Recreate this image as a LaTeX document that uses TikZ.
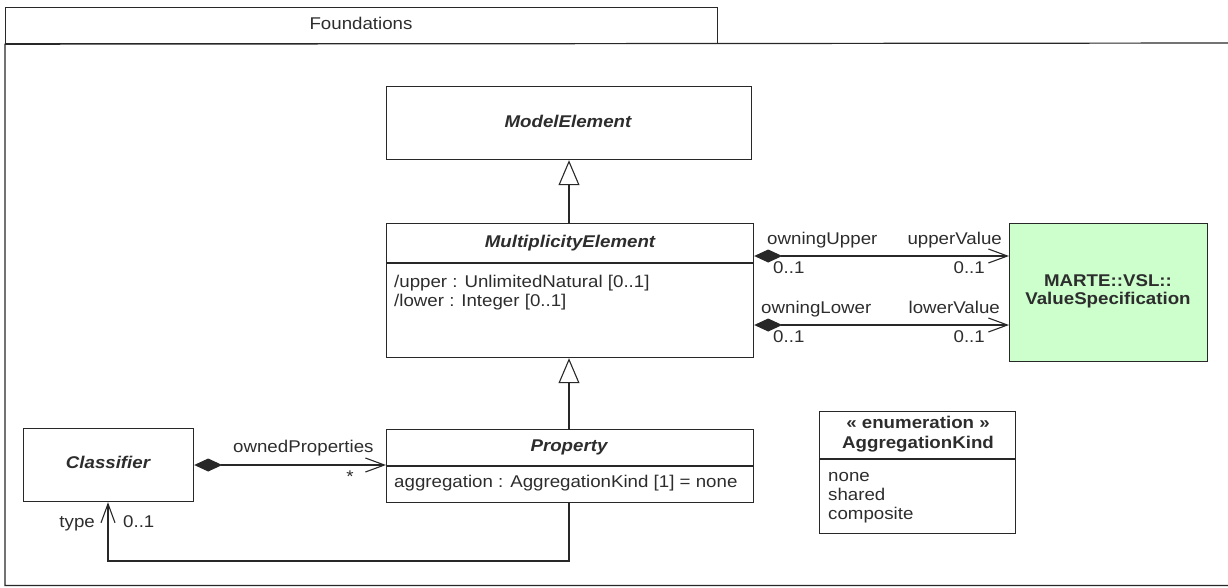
\documentclass[tikz,border=0pt]{standalone}
\usepackage{fontspec}
\setmainfont{Liberation Sans}[FakeStretch=1.1]
\usepackage{tikz}
\usetikzlibrary{arrows.meta}

\definecolor{vslgreen}{RGB}{204,255,204}
\definecolor{umlline}{RGB}{40,40,40}
\definecolor{umltext}{RGB}{45,45,45}

\begin{document}
\begin{tikzpicture}[x=1pt,y=-1pt,
    every node/.style={font=\fontsize{17}{19}\selectfont, text=umltext},
    classbox/.style={draw=umlline, line width=1.2pt, inner sep=0pt, anchor=north west},
    classname/.style={font=\fontsize{17}{19}\selectfont\bfseries\itshape, anchor=base},
    stereo/.style={font=\fontsize{17}{19}\selectfont\bfseries, anchor=base},
    attr/.style={anchor=base west, inner sep=0pt},
    role/.style={inner sep=0pt},
    sep/.style={draw=umlline, line width=1.2pt},
    link/.style={draw=umlline, line width=1.1pt},
    comp/.style={link, {Diamond[length=28pt,width=13pt]}-{Straight Barb[length=19pt,width=14pt]}},
    nav/.style={link, -{Straight Barb[length=19pt,width=14pt]}},
    gen/.style={link, -{Triangle[open,length=25pt,width=21pt,fill=white]}}]

  \useasboundingbox (0,0) rectangle (1228,587);

  % package frame
  \node[classbox, minimum width=712pt, minimum height=36pt] (pkg) at (5,7) {};
  \node[anchor=base] at (361,29) {Foundations};
  \draw[umlline, line width=1.2pt] (1240,43) -- (pkg.south west) -- (5,585.5) -- (1240,585.5);

  % classes
  \node[classbox, minimum width=365pt, minimum height=73pt] (model) at (386,86) {};
  \node[classname] at (568,127) {ModelElement};

  \node[classbox, minimum width=367pt, minimum height=134pt] (mult) at (386,223) {};
  \node[classname] at (570,247) {MultiplicityElement};
  \draw[sep] (mult.west |- 0,263) -- (mult.east |- 0,263);
  \node[attr] at (394,287) {/upper : UnlimitedNatural [0..1]};
  \node[attr] at (394,306) {/lower : Integer [0..1]};

  \node[classbox, fill=vslgreen, minimum width=198pt, minimum height=138pt] (vsl) at (1009,223) {};
  \node[stereo] at (1108,286) {MARTE::VSL::};
  \node[stereo] at (1108,304) {ValueSpecification};

  \node[classbox, minimum width=367pt, minimum height=73pt] (prop) at (386,429) {};
  \node[classname] at (569,451) {Property};
  \draw[sep] (prop.west |- 0,466) -- (prop.east |- 0,466);
  \node[attr] at (394,487) {aggregation : AggregationKind [1] = none};

  \node[classbox, minimum width=170pt, minimum height=73pt] (classif) at (23,428) {};
  \node[classname] at (108,468) {Classifier};

  \node[classbox, minimum width=196pt, minimum height=122pt] (aggkind) at (819,411) {};
  \node[stereo] at (918,428) {« enumeration »};
  \node[stereo] at (918,448) {AggregationKind};
  \draw[sep] (aggkind.west |- 0,459) -- (aggkind.east |- 0,459);
  \node[attr] at (828,481) {none};
  \node[attr] at (828,500) {shared};
  \node[attr] at (828,519) {composite};

  % generalizations
  \draw[gen] (mult.north -| 569,0) -- (model.south -| 569,0);
  \draw[gen] (prop.north -| 569,0) -- (mult.south -| 569,0);

  % associations
  \draw[comp] (mult.east |- 0,256) -- (vsl.west |- 0,256);
  \node[role, anchor=base west] at (767,244) {owningUpper};
  \node[role, anchor=base east] at (1002,244) {upperValue};
  \node[role, anchor=base west] at (773,273) {0..1};
  \node[role, anchor=base east] at (985,273) {0..1};

  \draw[comp] (mult.east |- 0,325) -- (vsl.west |- 0,325);
  \node[role, anchor=base west] at (761,313) {owningLower};
  \node[role, anchor=base east] at (1000,313) {lowerValue};
  \node[role, anchor=base west] at (773,342) {0..1};
  \node[role, anchor=base east] at (985,342) {0..1};

  \draw[comp] (classif.east |- 0,465) -- (prop.west |- 0,465);
  \node[role, anchor=base west] at (233,452) {ownedProperties};
  \node[role, anchor=base] at (350,482) {*};

  \draw[nav] (prop.south -| 569,0) -- (569,561) -- (108,561) -- (classif.south -| 108,0);
  \node[role, anchor=base east] at (95,527) {type};
  \node[role, anchor=base west] at (123,527) {0..1};
\end{tikzpicture}
\end{document}
